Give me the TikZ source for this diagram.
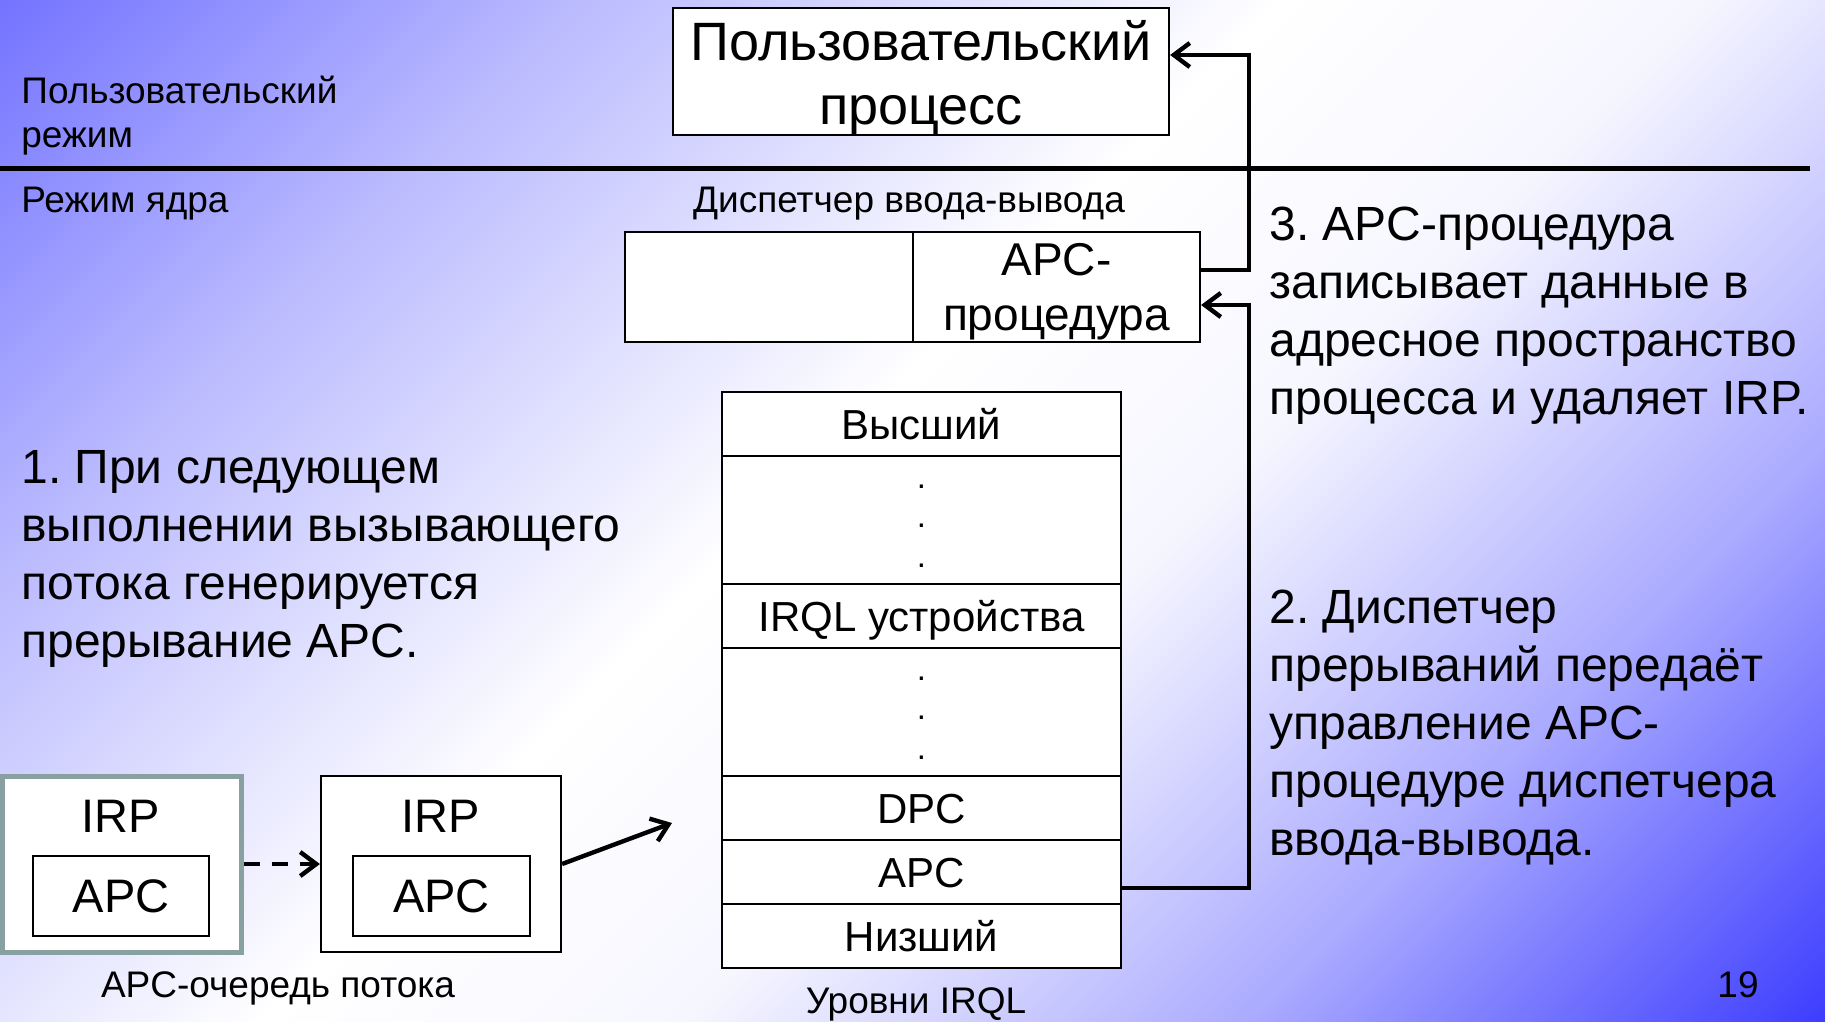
\documentclass[tikz,border=0pt]{standalone}
\usepackage{fontspec}
\setmainfont{Liberation Sans}
\usetikzlibrary{calc, arrows.meta}

\definecolor{bgA}{RGB}{116,116,255}
\definecolor{bgB}{RGB}{186,186,255}
\definecolor{bgC}{RGB}{255,255,255}
\definecolor{bgD}{RGB}{246,246,255}
\definecolor{bgE}{RGB}{170,170,255}
\definecolor{bgF}{RGB}{62,62,255}
\definecolor{qgray}{RGB}{137,160,160}

% diagonal slide background
\pgfdeclareverticalshading{slidebg}{100bp}{color(0bp)=(bgF); color(14.64bp)=(bgF);
  color(28.8bp)=(bgE); color(42.9bp)=(bgD); color(53.5bp)=(bgC);
  color(71.2bp)=(bgB); color(85.36bp)=(bgA); color(100bp)=(bgA)}

\begin{document}
\frenchspacing
\begin{tikzpicture}[x=1pt, y=-1pt,
    box/.style={draw=black, line width=1.1pt, fill=white, inner sep=0pt, align=center},
    level/.style={box, minimum width=199.5pt, text height=15.5pt, text depth=0pt,
                  font=\fontsize{21}{25}\selectfont},
    vdots/.style={align=center, inner sep=0pt, font=\fontsize{16.5}{19.7}\selectfont},
    conn/.style={line width=2.2pt, -{Straight Barb[length=8pt, width=12pt]}},
    small/.style={font=\fontsize{18.5}{22}\selectfont, inner sep=0pt},
    note/.style={font=\fontsize{24}{29}\selectfont, inner sep=0pt, align=left, anchor=west},
    mid/.style={font=\fontsize{23.5}{28}\selectfont, inner sep=0pt}]

  \shade[shading=slidebg, shading angle=45] (0, 0) rectangle (912.5, 511);
  \useasboundingbox (0, 0) rectangle (912.5, 511);

  \draw[line width=2.5pt] (0, 84) -- (905, 84);

  \node[small, anchor=west, align=left] (usrmode) at (10.5, 58) {Пользовательский\\режим};
  \node[small, anchor=west] (kernmode) at (10.5, 102) {Режим ядра};

  \node[box, minimum width=248pt, minimum height=63.5pt] (proc) at (460.5, 35.75) {};
  \node[align=center, inner sep=0pt, font=\fontsize{27}{32}\selectfont]
    (proctxt) at ($(proc)+(0, 3.5)$) {Пользовательский\\процесс};

  % I/O manager
  \node[small] (iolabel) at (454.5, 102) {Диспетчер ввода-вывода};
  \node[box, minimum width=144pt, minimum height=55pt] (iomgr) at (384.5, 143.5) {};
  \node[box, minimum width=143.5pt, minimum height=55pt] (apcproc) at (528.25, 143.5) {};
  \node[align=center, inner sep=0pt, font=\fontsize{23}{27.5}\selectfont]
    (apcproctxt) at ($(apcproc)+(0, 2.5)$) {APC-\\процедура};

  % IRQL levels
  \foreach \nm/\txt/\yy/\hh in {lvhigh/Высший/212/32, lvdotsa//260/64, lvdev/IRQL устройства/308/32,
                                lvdotsb//356/64, lvdpc/DPC/404/32, lvapc/APC/436/32, lvlow/Низший/468/32} {
    \node[level, minimum height=\hh pt] (\nm) at (460.75, \yy) {\txt};
  }
  \node[vdots] (dotsa) at ($(lvdotsa)+(0, 3)$) {.\\.\\.};
  \node[vdots] (dotsb) at ($(lvdotsb)+(0, 3)$) {.\\.\\.};
  \node[small] (levels) at (458, 502) {Уровни IRQL};

  % APC queue
  \node[box, draw=qgray, line width=2.5pt, minimum width=119.5pt, minimum height=88pt] (irpa) at (60.75, 432) {};
  \node[mid] (irpatxt) at (60.5, 408) {IRP};
  \node[box, mid, minimum width=88pt, minimum height=40pt] (apca) at (60.5, 448) {APC};

  \node[box, minimum width=120pt, minimum height=88pt] (irpb) at (220.5, 432) {};
  \node[mid] (irpbtxt) at (220.5, 408) {IRP};
  \node[box, mid, minimum width=88.5pt, minimum height=40pt] (apcb) at (220.75, 448) {APC};

  \node[small] (queue) at (139, 494) {APC-очередь потока};

  \node[note] (note1) at (10.5, 279.5) {1. При следующем\\выполнении вызывающего\\потока генерируется\\прерывание APC.};
  \node[note] (note3) at (634.5, 157.75) {3. APC-процедура\\записывает данные в\\адресное пространство\\процесса и удаляет IRP.};
  \node[note] (note2) at (634.5, 364) {2. Диспетчер\\прерываний передаёт\\управление APC-\\процедуре диспетчера\\ввода-вывода.};

  \node[small] (pagenum) at (869, 492.5) {19};

  % connectors
  \draw[conn, dash pattern=on 8pt off 6pt] (irpa) -- (irpb);
  \coordinate (lvin) at (336, 411.5);
  \draw[conn] (irpb.east) -- (lvin);

  \coordinate (bus) at (624.5, 0);
  \coordinate (apcout) at ([yshift=-8pt]lvapc.east);
  \coordinate (apcin) at ([yshift=-9pt]apcproc.east);
  \draw[conn] (apcout) -- (apcout -| bus) |- (apcin);
  \coordinate (procout) at ([yshift=8.5pt]apcproc.east);
  \coordinate (procin) at ([yshift=8.25pt]proc.east);
  \draw[conn] (procout) -- (procout -| bus) |- (procin);

\end{tikzpicture}
\end{document}
